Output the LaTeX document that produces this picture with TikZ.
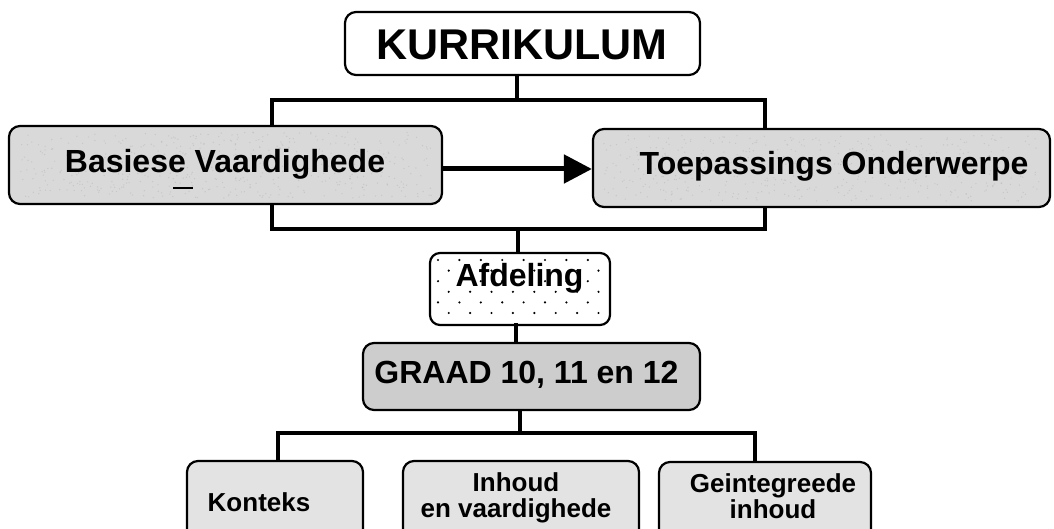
\documentclass[tikz,border=0pt]{standalone}
\usepackage{fontspec}
\setmainfont{Liberation Sans}
\usetikzlibrary{arrows.meta}
\definecolor{boxgrey}{HTML}{D9D9D9}
\definecolor{graadgrey}{HTML}{CDCDCD}
\definecolor{lowgrey}{HTML}{E3E3E3}
\begin{document}
\begin{tikzpicture}[x=1pt,y=-1pt,
  box/.style={draw=black, line width=2.2pt, rounded corners=11pt, inner sep=0pt},
  conn/.style={line width=4pt},
  bar/.style={line width=4.6pt, line join=miter},
  lbl/.style={anchor=base, inner sep=0pt, font=\bfseries\fontsize{32}{36}\selectfont},
  small/.style={anchor=base, inner sep=0pt, font=\bfseries\fontsize{26}{26}\selectfont},
  speck/.style={fill=gray!70, opacity=0.35}]
\useasboundingbox (0,0) rectangle (1054,529);
\clip (0,0) rectangle (1054,529);

% boxes
\node[box, fill=white, minimum width=355pt, minimum height=63pt] (kur) at (522.5,43.5) {};
\node[lbl, font=\bfseries\fontsize{43}{48}\selectfont] (kurT) at (522,60) {KURRIKULUM};

\node[box, fill=boxgrey, minimum width=433pt, minimum height=78pt] (bas) at (225.5,165) {};
\node[box, fill=boxgrey, minimum width=457pt, minimum height=78pt] (toep) at (821.5,168) {};
% speckled texture of the two grey boxes
\pgfmathsetseed{7}
\foreach \i in {1,...,500} {
  \pgfmathsetmacro\px{20+rnd*412}
  \pgfmathsetmacro\py{132+rnd*66}
  \fill[speck] (\px,\py) circle (0.7pt);
  \pgfmathsetmacro\qx{604+rnd*436}
  \pgfmathsetmacro\qy{135+rnd*66}
  \fill[speck] (\qx,\qy) circle (0.7pt);
}
\node[lbl] (basT) at (225,173) {Basiese Vaardighede};
\coordinate (d1) at (173,188);
\coordinate (d2) at (193,188);
\draw[line width=1.5pt] (d1) -- (d2);
\node[lbl] (toepT) at (834,175) {Toepassings Onderwerpe};

\node[box, fill=white, rounded corners=10pt, minimum width=180pt, minimum height=72pt] (afd) at (520,289) {};
\foreach \r in {0,...,5} {
  \pgfmathsetmacro\yy{260+10.6*\r}
  \pgfmathsetmacro\xs{mod(\r,2)==0 ? 438 : 448.7}
  \foreach \c in {0,...,7} {
    \fill (\xs+21.4*\c,\yy) circle (1.2pt);
  }
}
\node[lbl] (afdT) at (519.5,287) {Afdeling};

\node[box, fill=graadgrey, minimum width=337pt, minimum height=67pt] (graad) at (531.5,376.5) {};
\node[lbl] (graadT) at (526.5,383) {GRAAD 10, 11 en 12};

\node[box, fill=lowgrey, minimum width=176pt, minimum height=90pt] (kont) at (275,506) {};
\node[small] (kontT) at (259,511) {Konteks};
\node[box, fill=lowgrey, minimum width=236pt, minimum height=90pt] (inh) at (521,506) {};
\node[small] (inhT) at (516,491) {\begin{tabular}[t]{@{}c@{}}Inhoud\\en vaardighede\end{tabular}};
\node[box, fill=lowgrey, minimum width=212pt, minimum height=90pt] (gei) at (765,507) {};
\node[small] (geiT) at (773,492) {\begin{tabular}[t]{@{}c@{}}Geintegreede\\inhoud\end{tabular}};

% connectors
\coordinate (k1) at (517,100);
\coordinate (tl) at (272,100);
\coordinate (tr) at (765,100);
\draw[conn] (kur.south -| k1) -- (k1);
\draw[bar] (tl |- bas.north) -- (tl) -- (tr) -- (tr |- toep.north);

\coordinate (bl) at (272,229);
\coordinate (br) at (765,229);
\coordinate (m1) at (518,229);
\draw[bar] (bas.south -| bl) -- (bl) -- (br) -- (toep.south -| br);
\draw[conn] (m1) -- (afd.north -| m1);

\coordinate (m2) at (516,334);
\draw[conn] ([yshift=3pt]afd.south -| m2) -- (graad.north -| m2);

\coordinate (m3) at (520,433);
\coordinate (cl) at (278,433);
\coordinate (cr) at (755,433);
\draw[conn] (graad.south -| m3) -- (m3);
\draw[bar] (kont.north -| cl) -- (cl) -- (cr) -- (gei.north -| cr);

\coordinate (ar) at (0,169);
\draw[line width=5pt, -{Triangle[length=28pt,width=28pt]}] (bas.east |- ar) -- (toep.west |- ar);
\end{tikzpicture}
\end{document}
